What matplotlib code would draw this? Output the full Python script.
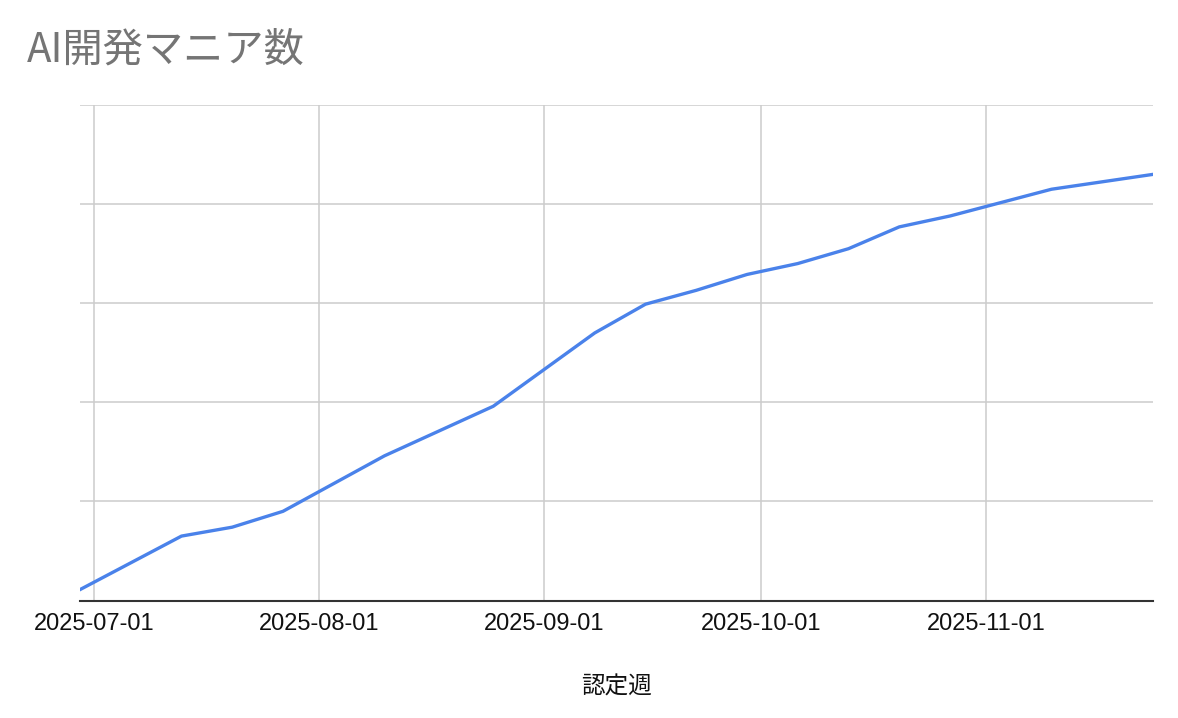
import matplotlib
matplotlib.use('Agg')
import matplotlib.pyplot as plt
import matplotlib.dates as mdates
import numpy as np
import pandas as pd

# data (y axis has no labels, values in grid units: 100 per gridline)
weeks = ['2025-06-29', '2025-07-13', '2025-07-20', '2025-07-27', '2025-08-10',
         '2025-08-25', '2025-09-08', '2025-09-15', '2025-09-22', '2025-09-29',
         '2025-10-06', '2025-10-13', '2025-10-20', '2025-10-27', '2025-11-10',
         '2025-11-24']
maniacs = [11, 65, 74, 90, 146, 196, 270, 299, 313, 329, 340, 355, 377, 388, 415, 430]
month_ticks = ['2025-07-01', '2025-08-01', '2025-09-01', '2025-10-01', '2025-11-01']

dates = pd.to_datetime(weeks)
ticks = pd.to_datetime(month_ticks)

fg = plt.figure(figsize=(11.78, 7.18), dpi=100)
ax = fg.add_axes([80 / 1178, 1 - 600.5 / 718, (1153 - 80) / 1178, (600.5 - 105) / 718])

ax.plot(dates, maniacs, color='#4a82ea', lw=2.4, solid_joinstyle='round', zorder=3)

ax.set_xlim(dates[0], dates[-1])
ax.set_ylim(0, 500)
ax.set_yticks(np.arange(0, 501, 100))
ax.set_yticklabels([])
ax.set_xticks(ticks)
ax.xaxis.set_major_formatter(mdates.DateFormatter('%Y-%m-%d'))
ax.tick_params(axis='both', length=0)
ax.tick_params(axis='x', pad=9, labelsize=17, labelcolor='#111111')
for lbl in ax.get_xticklabels():
    lbl.set_family(['Liberation Sans', 'DejaVu Sans'])

ax.grid(True, color='#cccccc', lw=1.1)
ax.set_axisbelow(True)
for side in ['left', 'right', 'top']:
    ax.spines[side].set_visible(False)
ax.spines['bottom'].set_color('#333333')
ax.spines['bottom'].set_linewidth(1.5)
ax.spines['bottom'].set_zorder(4)

ax.set_xlabel('認定週', fontsize=17, family=['Noto Sans CJK JP', 'DejaVu Sans'],
              color='#111111', labelpad=29)

fg.text(27 / 1178, 1 - 62 / 718, 'AI開発マニア数', fontsize=29, color='#757575',
        family=['Noto Sans CJK JP', 'DejaVu Sans'], va='baseline', ha='left')

fg.savefig('out.png', dpi=100)
